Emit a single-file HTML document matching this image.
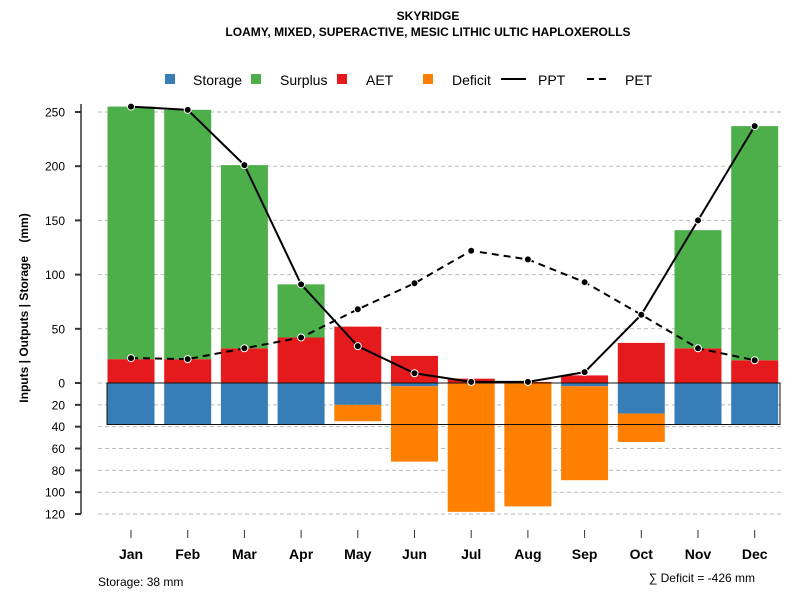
<!DOCTYPE html>
<html><head><meta charset="utf-8"><style>body{margin:0;background:#fff}svg{font-family:"Liberation Sans",sans-serif}</style></head>
<body>
<svg id="c" width="800" height="600"></svg>
<script>
const months=["Jan","Feb","Mar","Apr","May","Jun","Jul","Aug","Sep","Oct","Nov","Dec"];
const aet=[22,22,32,42,52,25,4,1,7,37,32,21];
const surplus=[233,230,169,49,0,0,0,0,0,0,109,216];
const storage=[38,38,38,38,20,3,0,0,3,28,38,38];
const deficit=[0,0,0,0,15,69,118,113,86,26,0,0];
const ppt=[255,252,201,91,34,9,1,1,10,63,150,237];
const pet=[23,22,32,42,68,92,122,114,93,63,32,21];
const posTicks=[0,50,100,150,200,250];
const negTicks=[20,40,60,80,100,120];
const NS="http://www.w3.org/2000/svg",svg=document.getElementById('c');
function mk(t,a,p){const e=document.createElementNS(NS,t);for(const k in a)e.setAttribute(k,a[k]);(p||svg).appendChild(e);return e;}
const y0=383;
function yP(v){return y0-v*1.084;}
function yN(v){return y0+v*1.092;}
function xC(i){return 131+i*56.7;}
const bw=47;
let t=mk('text',{x:428,y:20,'text-anchor':'middle','font-size':12,'font-weight':'bold'});t.textContent='SKYRIDGE';

t=mk('text',{x:428,y:36,'text-anchor':'middle','font-size':12,'font-weight':'bold'});t.textContent='LOAMY, MIXED, SUPERACTIVE, MESIC LITHIC ULTIC HAPLOXEROLLS';

const ax=mk('g',{});
mk('line',{x1:81,x2:81,y1:yP(250)-8,y2:yN(120),stroke:'#666','stroke-width':2},ax);
posTicks.forEach(v=>{const y=yP(v);
 if(v>0)mk('line',{x1:98,x2:782,y1:y,y2:y,stroke:'#bbb','stroke-dasharray':'4,3'});
 mk('line',{x1:75,x2:81,y1:y,y2:y,stroke:'#333','stroke-width':2},ax);
 const l=mk('text',{x:65,y:y+4.5,'text-anchor':'end','font-size':12},ax);l.textContent=v;});
negTicks.forEach(v=>{const y=yN(v);
 mk('line',{x1:98,x2:782,y1:y,y2:y,stroke:'#bbb','stroke-dasharray':'4,3'});
 mk('line',{x1:75,x2:81,y1:y,y2:y,stroke:'#333','stroke-width':2},ax);
 const l=mk('text',{x:65,y:y+4.5,'text-anchor':'end','font-size':12},ax);l.textContent=v;});
mk('line',{x1:98,x2:782,y1:y0,y2:y0,stroke:'#bbb','stroke-dasharray':'4,3'});
t=mk('text',{transform:'translate(28,308) rotate(-90)','text-anchor':'middle','font-size':12,'font-weight':'bold',style:'white-space:pre'});t.textContent='Inputs | Outputs | Storage    (mm)';

months.forEach((m,i)=>{const x=xC(i)-bw/2;
 let r=mk('rect',{x:x,y:yP(aet[i]),width:bw,height:aet[i]*1.084,fill:'#E41A1C'});
 if(surplus[i]>0){r=mk('rect',{x:x,y:yP(aet[i]+surplus[i]),width:bw,height:surplus[i]*1.084,fill:'#4DAF4A'});}
 if(storage[i]>0){r=mk('rect',{x:x,y:y0,width:bw,height:storage[i]*1.092,fill:'#377EB8'});}
 if(deficit[i]>0){r=mk('rect',{x:x,y:yN(storage[i]),width:bw,height:deficit[i]*1.092,fill:'#FF7F00'});}
 mk('line',{x1:xC(i),x2:xC(i),y1:530,y2:538,stroke:'#333'});
 const l=mk('text',{x:xC(i),y:559,'text-anchor':'middle','font-size':14,'font-weight':'bold'});l.textContent=m;
 
});
const box=mk('rect',{x:107,y:y0,width:673,height:38*1.092,fill:'none',stroke:'#111','stroke-width':1});

function line(vals,dash,name){const pts=vals.map((v,i)=>xC(i)+','+yP(v)).join(' ');
 const p=mk('polyline',{points:pts,fill:'none',stroke:'#000','stroke-width':2,'stroke-dasharray':dash});
 
 vals.forEach((v,i)=>{const c=mk('circle',{cx:xC(i),cy:yP(v),r:3.5,fill:'#000',stroke:'#fff','stroke-width':1});
 });}
line(pet,'7,5','pet');line(ppt,'none','ppt');
const lg=mk('g',{});
[['#377EB8','Storage',165,193],['#4DAF4A','Surplus',251,280],['#E41A1C','AET',337,366],['#FF7F00','Deficit',423,452]].forEach(a=>{
 mk('rect',{x:a[2],y:74,width:10,height:10,fill:a[0]},lg);const l=mk('text',{x:a[3],y:85,'font-size':14},lg);l.textContent=a[1];});
mk('line',{x1:501,x2:526,y1:79,y2:79,stroke:'#000','stroke-width':2},lg);
t=mk('text',{x:538,y:85,'font-size':14},lg);t.textContent='PPT';
mk('line',{x1:587,x2:609,y1:79,y2:79,stroke:'#000','stroke-width':2,'stroke-dasharray':'7,5'},lg);
t=mk('text',{x:625,y:85,'font-size':14},lg);t.textContent='PET';
t=mk('text',{x:98,y:586,'font-size':12});t.textContent='Storage: 38 mm';

t=mk('text',{x:755,y:582,'text-anchor':'end','font-size':12});t.textContent='∑ Deficit = -426 mm';

</script>
</body></html>
